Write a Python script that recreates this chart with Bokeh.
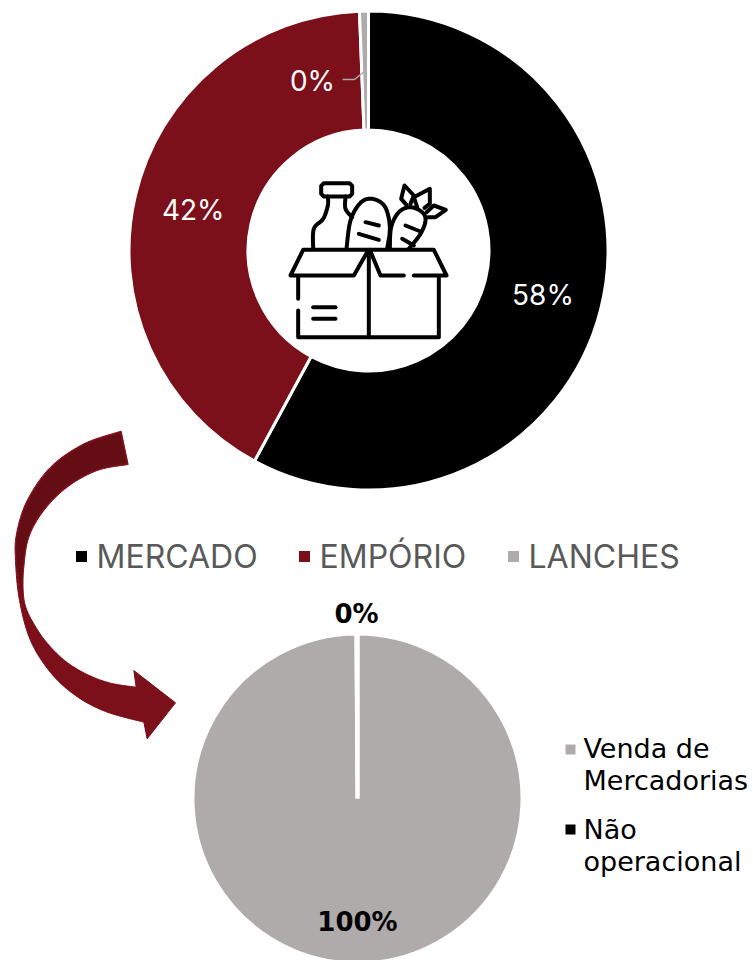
from math import pi, sin, cos
import numpy as np
from bokeh.plotting import figure
from bokeh.models import Range1d
from bokeh.core.properties import value
from bokeh.embed import file_html
from bokeh.resources import INLINE

# --- data
top_categories = ["MERCADO", "EMPÓRIO", "LANCHES"]
top_values = [57.9, 41.5, 0.6]
top_labels = ["58%", "42%", "0%"]
top_colors = ["#000000", "#7B0F1A", "#AFABAB"]
bottom_categories = ["Venda de Mercadorias", "Não operacional"]
bottom_values = [99.9, 0.1]
bottom_labels = ["100%", "0%"]
bottom_colors = ["#AFABAB", "#000000"]

FONT = "Inter"
LEG_FONT = "DejaVu Sans"
W, H = 753, 960
p = figure(width=W, height=H, output_backend="svg", toolbar_location=None,
           x_range=Range1d(0, W), y_range=Range1d(0, H),
           min_border=0, outline_line_color=None, background_fill_color="white")
p.xaxis.visible = False
p.yaxis.visible = False
p.grid.visible = False


def Y(y):
    return H - y


def spans(vals):
    c = np.cumsum([0] + list(vals)) / sum(vals) * 2 * pi
    return pi / 2 - c[:-1], pi / 2 - c[1:]


def txt(x, y, s, size, color, bold=False, align="center", font=FONT):
    p.text([x], [Y(y)], text=[s], text_font=value(font), text_font_size=f"{size}px",
           text_color=color, text_align=align, text_baseline="middle",
           text_font_style="bold" if bold else "normal")


def spline(pts, n=10):
    """Catmull-Rom smoothing for hand-drawn decoration outlines."""
    P = [pts[0]] + list(pts) + [pts[-1]]
    out = []
    for i in range(1, len(P) - 2):
        p0, p1, p2, p3 = map(np.array, P[i - 1:i + 3])
        for t in np.linspace(0, 1, n, endpoint=False):
            out.append(0.5 * (2 * p1 + (p2 - p0) * t + (2 * p0 - 5 * p1 + 4 * p2 - p3) * t ** 2
                              + (3 * p1 - p0 - 3 * p2 + p3) * t ** 3))
    out.append(np.array(P[-2], float))
    return out


# --- donut
cx, cy, r_in, r_out = 368, 250, 120.5, 239.5
a0, a1 = spans(top_values)
p.annular_wedge(x=[cx] * 3, y=[Y(cy)] * 3, inner_radius=r_in, outer_radius=r_out,
                start_angle=a0, end_angle=a1, direction="clock",
                fill_color=top_colors, line_color="white", line_width=3)
for i in (0, 1):
    m = (a0[i] + a1[i]) / 2
    txt(cx + 180 * cos(m), cy - 180 * sin(m), top_labels[i], 28, "white")
txt(312, 80, top_labels[2], 28, "white")
p.line([342, 354, 365], [Y(79), Y(79), Y(70)], line_color="#AFABAB", line_width=1.5)

# --- icon (zoom crop coordinates mapped to page pixels)
def ic(pts, smooth=False):
    pts = spline(pts) if smooth else pts
    return [270 + q[0] / 3 for q in pts], [Y(170 + q[1] / 3) for q in pts]

icon = [
    ([(172, 78), (160, 78), (152, 70), (152, 46), (160, 38), (237, 38), (245, 46), (245, 70), (237, 78), (172, 78)], False),
    ([(172, 78), (172, 105), (158, 145), (130, 175), (128, 235)], True),
    ([(225, 78), (225, 115), (245, 140)], True),
    ([(228, 235), (240, 150), (270, 97), (305, 85), (343, 108), (358, 170), (350, 235)], True),
    ([(285, 155), (325, 165)], False),
    ([(265, 190), (325, 208)], False),
    ([(358, 235), (362, 170), (385, 125), (420, 110), (455, 125), (465, 150), (450, 190), (415, 235)], True),
    ([(405, 165), (450, 183)], False),
    ([(395, 205), (430, 225)], False),
    ([(408, 103), (392, 85), (402, 45), (430, 75), (420, 100)], False),
    ([(440, 110), (430, 80), (478, 55), (478, 100), (462, 112)], False),
    ([(468, 125), (490, 105), (526, 118), (495, 140), (472, 140)], False),
    ([(290, 245), (250, 315), (60, 315), (98, 238), (490, 238), (528, 315), (430, 315)], False),
    ([(298, 238), (330, 315), (400, 315)], False),
    ([(295, 245), (295, 500)], False),
    ([(83, 320), (83, 385)], False),
    ([(83, 420), (83, 500), (505, 500), (505, 320)], False),
    ([(128, 410), (195, 410)], False),
    ([(128, 445), (195, 445)], False),
]
xs, ys = zip(*[ic(a, s) for a, s in icon])
p.multi_line(list(xs), list(ys), line_color="black", line_width=4,
             line_cap="round", line_join="round")

# --- arrow
def az(pts):
    return [(q[0] / 3, 420 + q[1] / 3) for q in pts]

outer = az([(362, 32), (250, 70), (150, 140), (80, 240), (48, 340), (45, 420), (57, 540),
            (90, 660), (150, 756), (225, 825), (315, 873), (430, 905)])
inner = az([(407, 800), (330, 788), (260, 762), (195, 722), (140, 668), (100, 610), (76, 560), (68, 510),
            (70, 440), (85, 350), (130, 270), (200, 200), (290, 150), (383, 132)])
head = az([(440, 955), (525, 847), (400, 750)])
poly = spline(outer) + head + spline(inner)
p.patch([q[0] for q in poly], [Y(q[1]) for q in poly], fill_color="#7B0F1A", line_color="#7B0F1A", line_width=1)
dark_o = az([(358, 38), (250, 75), (152, 145), (84, 243), (52, 340), (49, 420), (66, 530)])
dark_i = az([(66, 530), (64, 500), (66, 440), (82, 348), (126, 266), (198, 195), (288, 146), (378, 127)])
dark = spline(dark_o) + spline(dark_i)
p.patch([q[0] for q in dark], [Y(q[1]) for q in dark], fill_color="#650D15", line_color=None)

# --- top legend
leg_x = [75, 298, 507]
for x, name, col in zip(leg_x, top_categories, top_colors):
    p.rect([x + 6], [Y(556)], width=11, height=11, fill_color=col, line_color=None)
    txt(x + 21, 556, name, 32, "#595959", align="left")

# --- pie
px, py, pr = 357, 798, 165
b0, b1 = spans(bottom_values)
p.wedge(x=[px] * 2, y=[Y(py)] * 2, radius=pr, start_angle=b0, end_angle=b1, direction="clock",
        fill_color=bottom_colors, line_color="white", line_width=4)
txt(356, 613, bottom_labels[1], 26, "black", bold=True, font=LEG_FONT)
txt(357, 921, bottom_labels[0], 26, "black", bold=True, font=LEG_FONT)

# --- right legend
p.rect([570], [Y(749)], width=10, height=10, fill_color=bottom_colors[0], line_color=None)
txt(583, 748, "Venda de", 27, "black", align="left", font=LEG_FONT)
txt(583, 780, "Mercadorias", 27, "black", align="left", font=LEG_FONT)
p.rect([570], [Y(829)], width=10, height=10, fill_color=bottom_colors[1], line_color=None)
txt(583, 829, "Não", 27, "black", align="left", font=LEG_FONT)
txt(583, 861, "operacional", 27, "black", align="left", font=LEG_FONT)

open("out.html", "w").write(file_html(p, INLINE))
